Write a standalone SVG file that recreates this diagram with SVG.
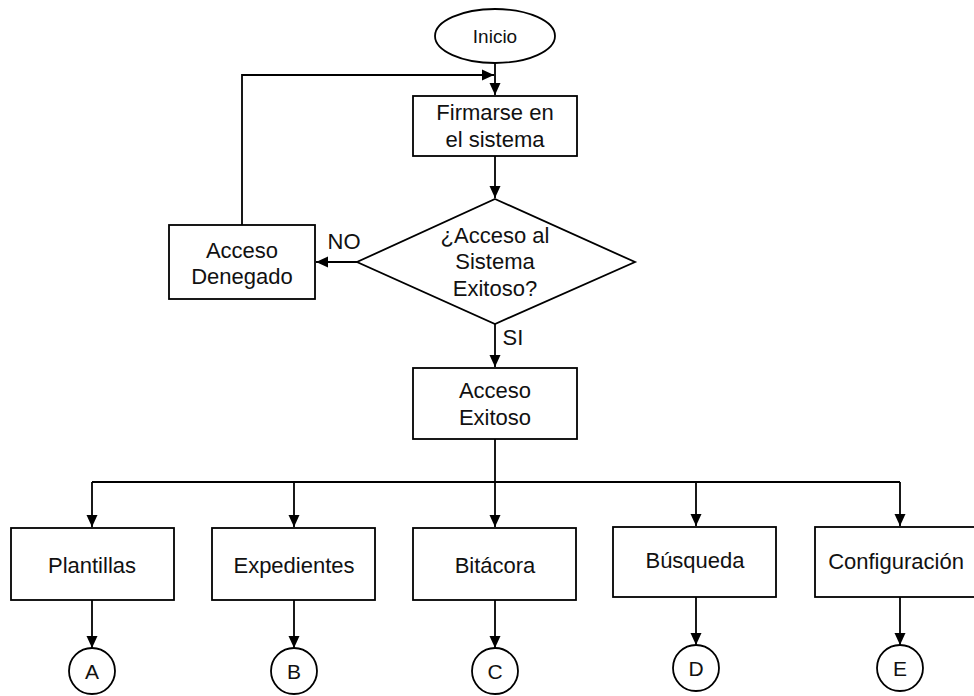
<svg xmlns="http://www.w3.org/2000/svg" width="974" height="696" viewBox="0 0 974 696">
<style>
.shape{fill:#fff;stroke:#000;stroke-width:1.8}
.line{fill:none;stroke:#000;stroke-width:1.8}
text{font-family:"Liberation Sans",Arial,sans-serif;font-size:22px;fill:#111;text-anchor:middle}
.small{font-size:19px}
.lbl{font-size:21px}
</style>
<defs>
<marker id="arr" markerUnits="userSpaceOnUse" markerWidth="12" markerHeight="12" viewBox="0 0 12 12" refX="12" refY="6" orient="auto">
<path d="M0,0.5 L12,6 L0,11.5 Z" fill="#000"/>
</marker>
</defs>
<rect width="974" height="696" fill="#fff"/>
<g id="connectors">
<path class="line" d="M495,63 V95" marker-end="url(#arr)"/>
<path class="line" d="M242,225 V75 H494" marker-end="url(#arr)"/>
<path class="line" d="M495,156 V198" marker-end="url(#arr)"/>
<path class="line" d="M357,262 H316" marker-end="url(#arr)"/>
<path class="line" d="M495,324 V367" marker-end="url(#arr)"/>
<path class="line" d="M495,439 V482"/>
<path class="line" d="M92,482 H900"/>
<path class="line" d="M92,482 V527" marker-end="url(#arr)"/>
<path class="line" d="M294,482 V527" marker-end="url(#arr)"/>
<path class="line" d="M495,482 V527" marker-end="url(#arr)"/>
<path class="line" d="M696,482 V526" marker-end="url(#arr)"/>
<path class="line" d="M900,482 V526" marker-end="url(#arr)"/>
<path class="line" d="M92,600 V648" marker-end="url(#arr)"/>
<path class="line" d="M294,600 V648" marker-end="url(#arr)"/>
<path class="line" d="M495,600 V648" marker-end="url(#arr)"/>
<path class="line" d="M696,597 V645" marker-end="url(#arr)"/>
<path class="line" d="M900,597 V645" marker-end="url(#arr)"/>
<text x="344" y="249">NO</text>
<text x="513" y="345">SI</text>
</g>
<g id="inicio">
<ellipse class="shape" cx="495" cy="36" rx="60" ry="27"/>
<text class="small" x="495" y="43">Inicio</text>
</g>
<g id="firmarse">
<rect class="shape" x="413" y="96" width="164" height="60"/>
<text x="495" y="120">Firmarse en</text>
<text x="495" y="147">el sistema</text>
</g>
<g id="decision">
<polygon class="shape" points="495,199 635,262 495,324 357,262"/>
<text x="495" y="243">¿Acceso al</text>
<text x="495" y="269">Sistema</text>
<text x="495" y="296">Exitoso?</text>
</g>
<g id="denegado">
<rect class="shape" x="169" y="225" width="146" height="74"/>
<text x="242" y="258">Acceso</text>
<text x="242" y="284">Denegado</text>
</g>
<g id="exitoso">
<rect class="shape" x="413" y="368" width="164" height="71"/>
<text x="495" y="398">Acceso</text>
<text x="495" y="425">Exitoso</text>
</g>
<g id="plantillas">
<rect class="shape" x="11" y="528" width="163" height="72"/>
<text x="92" y="573">Plantillas</text>
</g>
<g id="expedientes">
<rect class="shape" x="212" y="528" width="163" height="72"/>
<text x="294" y="573">Expedientes</text>
</g>
<g id="bitacora">
<rect class="shape" x="413" y="528" width="163" height="72"/>
<text x="495" y="573">Bitácora</text>
</g>
<g id="busqueda">
<rect class="shape" x="613" y="527" width="163" height="70"/>
<text x="695" y="568">Búsqueda</text>
</g>
<g id="configuracion">
<rect class="shape" x="815" y="527" width="165" height="70"/>
<text x="896" y="569">Configuración</text>
</g>
<g id="a"><ellipse class="shape" cx="92" cy="671" rx="23" ry="23"/><text class="lbl" x="92" y="679">A</text></g>
<g id="b"><ellipse class="shape" cx="294" cy="671" rx="23" ry="23"/><text class="lbl" x="294" y="679">B</text></g>
<g id="c"><ellipse class="shape" cx="495" cy="671" rx="23" ry="23"/><text class="lbl" x="495" y="679">C</text></g>
<g id="d"><ellipse class="shape" cx="696" cy="668" rx="23" ry="23"/><text class="lbl" x="696" y="676">D</text></g>
<g id="e"><ellipse class="shape" cx="900" cy="668" rx="23" ry="23"/><text class="lbl" x="900" y="676">E</text></g>
</svg>
